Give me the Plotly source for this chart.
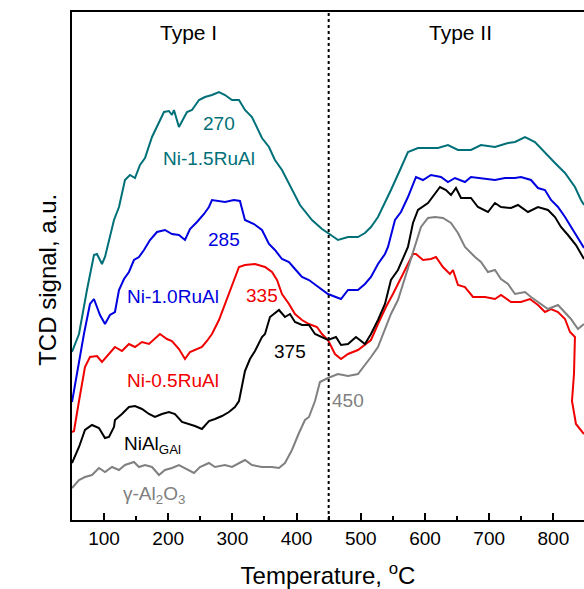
import plotly.graph_objects as go

# ---- data (temperature in °C, TCD signal in a.u.) ----
t_ru15 = [50.2, 61.1, 73.5, 84.4, 89.1, 96.9, 101.6, 109.3, 115.6, 123.4, 132.7, 140.5, 148.3, 156.1, 163.9,
          174.8, 182.6, 193.5, 201.2, 205.9, 209, 216.8, 229.3, 237.1, 248, 257.3, 268.2, 279.1, 288.5,
          299.4, 310.3, 319.6, 330.5, 338.3, 346.1, 357, 366.3, 377.3, 392.8, 405.3, 424, 439.6, 448.9,
          464.5, 480.1, 495.6, 506.5, 515.9, 526.8, 537.7, 547, 561.1, 573.5, 589.1, 604.7, 620.2, 635.8,
          651.4, 671.6, 687.2, 709, 729.3, 740.2, 755.8, 771.3, 786.9, 802.5, 818.1, 833.6, 843, 847.7]
s_ru15 = [33.6, 37.2, 46, 53, 53.2, 51.2, 52.6, 56.6, 60, 62.6, 68, 69, 68.4, 71, 72.4, 76.6, 78.6, 81.6,
          81.8, 81, 82, 78.6, 81.6, 82, 84, 84.6, 85, 85.6, 85, 84, 84, 82, 80.6, 78.6, 76.4, 74.6, 72, 70,
          66, 63, 60, 58.2, 57.4, 56, 56.6, 56.6, 57.4, 58.6, 60.6, 63.4, 66, 70, 73.6, 74.4, 74.4, 74.4,
          75, 74, 74, 75, 74.6, 75.4, 75.6, 76.6, 75.6, 73.4, 71.4, 69.4, 66.6, 64, 63]

t_ru10 = [50.2, 68.8, 78.2, 84.4, 89.1, 93.8, 101.6, 109.3, 117.1, 123.4, 131.2, 138.9, 146.7, 154.5, 162.3,
          171.7, 182.6, 195, 205.9, 216.8, 226.2, 234, 244.9, 255.8, 263.5, 268.2, 288.5, 302.5, 311.8,
          315, 319.6, 333.6, 346.1, 357, 366.3, 377.3, 388.2, 397.5, 408.4, 419.3, 434.9, 448.9, 469.2,
          480.1, 495.6, 506.5, 515.9, 526.8, 537.7, 542.4, 553.3, 562.6, 573.5, 586, 596.9, 609.3, 624.9,
          635.8, 646.7, 662.3, 671.6, 687.2, 709, 724.6, 740.2, 749.5, 765.1, 776, 786.9, 796.3, 807.2,
          818.1, 833.6, 843, 847.7]
s_ru10 = [23.6, 37.2, 43.2, 44.2, 42.6, 41, 39.2, 41, 41.6, 46, 48.2, 49.6, 52, 52.6, 54, 56, 57.6, 58,
          57.2, 57, 56, 58.2, 59.6, 61.2, 62.6, 64, 63.6, 64, 63.8, 62, 60, 59.2, 58, 55.2, 54, 52.2, 51.6,
          50.2, 48.6, 48, 46.6, 45.2, 44.2, 46, 46, 47.2, 48.6, 51.2, 53.2, 54.6, 60, 61.6, 64.6, 68.6, 68,
          69, 68.6, 67.6, 68.4, 67.6, 68.6, 68.4, 68, 68.4, 68.4, 68.6, 68, 66.4, 66, 64, 62.6, 60.6, 57.4,
          55.4, 54.4]

t_ru05 = [50.2, 53.3, 61.1, 70.4, 78.2, 89.1, 96.9, 107.8, 117.1, 128, 138.9, 148.3, 159.2, 170.1, 179.4,
          187.2, 198.1, 205.9, 216.8, 226.2, 234, 244.9, 252.6, 260.4, 268.2, 279.1, 288.5, 299.4, 310.3,
          319.6, 335.2, 350.8, 361.7, 369.5, 377.3, 388.2, 397.5, 408.4, 419.3, 431.8, 439.6, 448.9, 459.8,
          469.2, 480.1, 495.6, 506.5, 515.9, 526.8, 539.2, 550.1, 561.1, 570.4, 581.3, 586, 596.9, 609.3,
          617.1, 628, 638.9, 643.6, 651.4, 662.3, 674.8, 693.5, 709, 718.4, 734, 749.5, 763.5, 776, 786.9,
          796.3, 807.2, 818.1, 825.9, 833.6, 832.1, 829, 835.2, 847.7]
s_ru05 = [17.6, 17.8, 23.8, 30.6, 32.6, 32.8, 31.6, 33.2, 34.6, 33.8, 35.2, 34.6, 35.6, 35.2, 36.2, 37.2,
          36.2, 35.8, 34.2, 32.2, 33.6, 34.2, 34.6, 35.8, 37.2, 40, 43.2, 46.6, 50.6, 51, 51.2, 50.6, 49.6,
          48, 45.2, 43.2, 41.2, 40, 39.2, 38.6, 37.2, 36, 33.2, 32.2, 33.2, 34, 35, 36, 39.2, 42.6, 45.2,
          48, 50.6, 53.2, 53.2, 52, 52.2, 52.6, 50.6, 49.2, 50, 47, 46.6, 44.6, 44.6, 44.2, 45, 43.6, 43.6,
          44.2, 43, 41.6, 42.2, 41.6, 40.2, 37.6, 36.6, 29.2, 23.8, 19.2, 17.2]

t_nial = [50.2, 61.1, 70.4, 81.3, 92.2, 101.6, 107.8, 115.6, 117.1, 128, 138.9, 148.3, 159.2, 170.1, 179.4,
          190.3, 201.2, 210.6, 221.5, 232.4, 241.7, 252.6, 263.5, 272.9, 283.8, 294.7, 304, 310.3, 315,
          319.6, 327.4, 335.2, 346.1, 350.8, 358.6, 372.6, 381.9, 389.7, 397.5, 408.4, 419.3, 428.7, 448.9,
          461.4, 469.2, 480.1, 492.5, 506.5, 515.9, 526.8, 537.7, 547, 557.9, 568.8, 573.5, 581.3, 589.1,
          604.7, 615.6, 623.4, 632.7, 640.5, 648.3, 656.1, 671.6, 682.5, 698.1, 709, 718.4, 734, 744.9,
          760.4, 776, 791.6, 802.5, 811.8, 822.7, 835.2, 847.7]
s_nial = [11.4, 14.6, 18, 19, 18.4, 16.4, 16.6, 18.6, 20, 21.2, 22.6, 22.8, 22.2, 21.2, 20.6, 21.2, 21.6,
          21.2, 19.6, 19.2, 18.8, 18.2, 19.8, 20.2, 20.8, 21.6, 22.6, 23.8, 27.2, 29.8, 32.2, 33.8, 36.6,
          37.2, 40.6, 42, 40.6, 41.2, 39.6, 39, 39, 37.2, 36, 36.6, 35, 35.2, 36.6, 35.2, 37.2, 40, 43.2, 48,
          50, 53.2, 54.6, 59.4, 62, 63.4, 65.4, 66.6, 66, 65, 66.4, 64.4, 64.4, 62.6, 61.6, 63.4, 62.6, 62.4,
          63, 61.6, 62.6, 62, 60.6, 58.6, 57, 55, 52.2]

t_al2o3 = [50.2, 61.1, 70.4, 81.3, 92.2, 101.6, 112.5, 123.4, 132.7, 146.7, 154.5, 163.9, 174.8, 185.7,
           195, 205.9, 216.8, 226.2, 240.2, 249.5, 263.5, 272.9, 288.5, 299.4, 319.6, 330.5, 346.1, 361.7,
           372.6, 381.9, 392.8, 403.7, 413.1, 419.3, 428.7, 436.4, 448.9, 464.5, 480.1, 495.6, 506.5, 515.9,
           526.8, 537.7, 547, 557.9, 565.7, 573.5, 584.4, 593.8, 604.7, 615.6, 628, 640.5, 651.4, 662.3,
           677.9, 687.2, 698.1, 709, 718.4, 729.3, 740.2, 755.8, 765.1, 780.7, 791.6, 807.2, 818.1, 827.4,
           838.3, 847.7]
s_al2o3 = [6.4, 8, 8.6, 9, 10.4, 9.6, 10.6, 10, 11, 11.6, 10.6, 11, 10.6, 9, 10, 10.4, 11, 10.4, 9.4, 10.6,
           11.4, 10.6, 11, 10.6, 12, 11, 10.6, 10.6, 10.4, 11.4, 14, 17.4, 20, 20.6, 23.8, 27.6, 28.4, 29.2,
           28.8, 29.2, 31, 32.6, 34.6, 38, 41.2, 44, 47.2, 50.6, 54.6, 58.6, 60.4, 60.6, 60.4, 59.4, 57.4,
           54.6, 52.6, 51.6, 49.6, 50, 48.2, 47.2, 45.2, 45.6, 44.6, 43.2, 42.2, 43, 41.6, 40.2, 38.2, 39.2]

series_names = ["Ni-1.5RuAl", "Ni-1.0RuAl", "Ni-0.5RuAl", "NiAl<sub>GAl</sub>", "γ-Al<sub>2</sub>O<sub>3</sub>"]
series_t = [t_ru15, t_ru10, t_ru05, t_nial, t_al2o3]
series_s = [s_ru15, s_ru10, s_ru05, s_nial, s_al2o3]
colors = ["#007078", "#0000E0", "#F00000", "#000000", "#808080"]

# label texts and their anchor points (temperature, signal)
label_text = ["Type I", "Type II", "270", "Ni-1.5RuAl", "285", "Ni-1.0RuAl", "335", "Ni-0.5RuAl",
              "375", "NiAl<sub>GAl</sub>", "γ-Al<sub>2</sub>O<sub>3</sub>", "450"]
label_t = [231, 656, 279, 264, 287, 207, 346, 207, 390, 176, 178, 480]
label_s = [97.6, 97.6, 79.4, 72.4, 56.2, 44.8, 45, 28, 33.8, 15, 5, 24]
label_color = ["#000000", "#000000", colors[0], colors[0], colors[1], colors[1], colors[2], colors[2],
               colors[3], colors[3], colors[4], colors[4]]

boundary_t = 450

FONT = "Liberation Sans, Arial, sans-serif"

fig = go.Figure()
for name, t, s, c in zip(series_names, series_t, series_s, colors):
    fig.add_trace(go.Scatter(x=t, y=s, mode="lines", name=name,
                             line=dict(color=c, width=2), showlegend=False))

for txt, tx, sy, c in zip(label_text, label_t, label_s, label_color):
    size = 21 if txt.startswith("Type") else 19
    fig.add_annotation(x=tx, y=sy, xref="x", yref="y", text=txt, showarrow=False,
                       font=dict(family=FONT, size=size, color=c))

# y-axis title
fig.add_annotation(x=-0.078, y=0.472, xref="paper", yref="paper", text="TCD signal, a.u.",
                   showarrow=False, textangle=-90, font=dict(family=FONT, size=24, color="black"))

fig.add_shape(type="line", x0=boundary_t, x1=boundary_t, y0=0, y1=1, xref="x", yref="paper",
              line=dict(color="black", width=2, dash="3px,3px"))

fig.update_layout(
    width=584, height=589,
    margin=dict(l=72, r=0, t=12, b=69),
    paper_bgcolor="white", plot_bgcolor="white",
    font=dict(family=FONT, color="black"),
)
fig.update_xaxes(range=[50.2, 847.7], showgrid=False, zeroline=False,
                 showline=True, linecolor="black", linewidth=2, mirror=True,
                 ticks="inside", ticklen=7, tickwidth=1.5, tickcolor="black",
                 tickvals=[100, 200, 300, 400, 500, 600, 700, 800],
                 tickfont=dict(size=19, family=FONT),
                 minor=dict(dtick=50, tick0=0, ticks="inside", ticklen=4, tickwidth=1.5, tickcolor="black"),
                 title=dict(text="Temperature, <sup>o</sup>C", font=dict(size=24, family=FONT), standoff=20))
fig.update_yaxes(range=[0, 101.6], showgrid=False, zeroline=False,
                 showline=True, linecolor="black", linewidth=2, mirror=False,
                 showticklabels=False, ticks="")

fig.write_html("out.html")
